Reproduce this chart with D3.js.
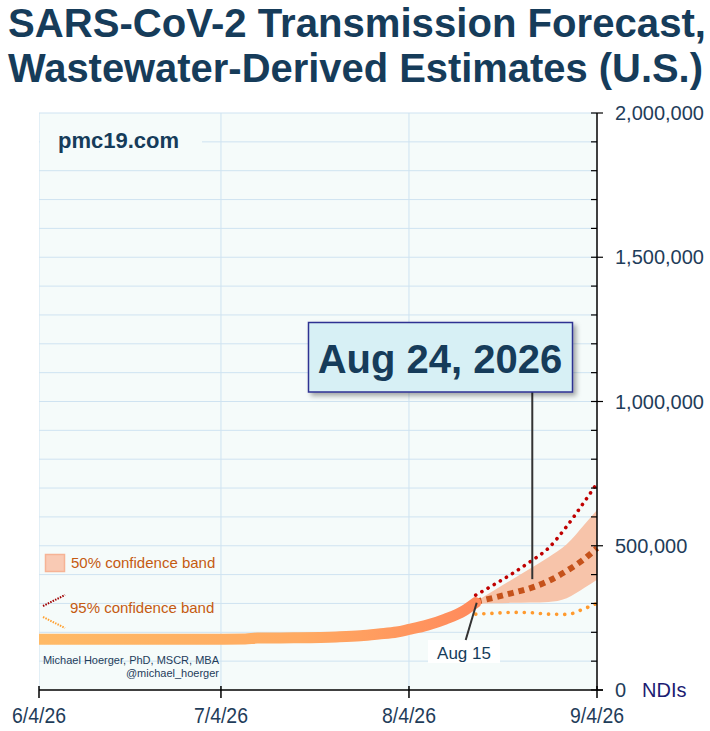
<!DOCTYPE html>
<html>
<head>
<meta charset="utf-8">
<script src="https://cdn.jsdelivr.net/npm/d3@7"></script>
<style>
  body { margin: 0; background: #fff; }
  text { font-family: "Liberation Sans", Arial, sans-serif; }
</style>
</head>
<body>
<div id="chart"></div>
<script>
// observed estimates (NDIs)
const histDates = ["2026-06-04", "2026-06-11", "2026-06-18", "2026-06-25", "2026-07-02", "2026-07-08",
  "2026-07-10", "2026-07-16", "2026-07-23", "2026-07-27", "2026-07-30", "2026-08-02", "2026-08-04",
  "2026-08-07", "2026-08-10", "2026-08-13", "2026-08-15"];
const histValues = [176000, 176000, 176000, 176000, 176000, 177000, 180000, 181000, 184000, 188000,
  194000, 201000, 210000, 225000, 246000, 274000, 303000];

// forecast
const fcDates = ["2026-08-15", "2026-08-18", "2026-08-21", "2026-08-24", "2026-08-27", "2026-08-30", "2026-09-02", "2026-09-04"];
const fcMedian = [306000, 320000, 336000, 353000, 378000, 413000, 456000, 492000];
const fcLo50 = [300000, 301000, 302000, 303000, 305000, 318000, 355000, 382000];
const fcHi50 = [306000, 345000, 383000, 421000, 460000, 505000, 575000, 624000];
const fcLo95 = [263000, 266000, 269000, 268000, 263000, 262000, 283000, 300000];
const fcHi95 = [329000, 365000, 403000, 445000, 492000, 567000, 655000, 716000];

const xTickDates = ["2026-06-04", "2026-07-04", "2026-08-04", "2026-09-04"];
const xTickLabels = ["6/4/26", "7/4/26", "8/4/26", "9/4/26"];
const yMajor = [0, 500000, 1000000, 1500000, 2000000];
const yMajorLabels = ["0", "500,000", "1,000,000", "1,500,000", "2,000,000"];

const highlightDate = "2026-08-24";
const highlightLabel = "Aug 24, 2026";
const startLabel = "Aug 15";

const W = 710, H = 731;
const plot = { left: 39, top: 113, right: 597, bottom: 690 };
const navy = "#163c5a";

const parse = d3.timeParse("%Y-%m-%d");
const hist = histDates.map((d, i) => ({ date: parse(d), v: histValues[i] }));
const fc = fcDates.map((d, i) => ({
  date: parse(d), med: fcMedian[i], lo50: fcLo50[i], hi50: fcHi50[i], lo95: fcLo95[i], hi95: fcHi95[i]
}));

const x = d3.scaleTime()
  .domain([parse(xTickDates[0]), parse(xTickDates[xTickDates.length - 1])])
  .range([plot.left, plot.right]);
const y = d3.scaleLinear().domain([0, 2000000]).range([plot.bottom, plot.top]);

const svg = d3.select("#chart").append("svg")
  .attr("width", W).attr("height", H);

const defs = svg.append("defs");
const grad = defs.append("linearGradient")
  .attr("id", "histGrad")
  .attr("gradientUnits", "userSpaceOnUse")
  .attr("x1", x(hist[0].date)).attr("x2", x(hist[hist.length - 1].date))
  .attr("y1", 0).attr("y2", 0);
grad.append("stop").attr("offset", "0%").attr("stop-color", "#ffba66");
grad.append("stop").attr("offset", "60%").attr("stop-color", "#ffaa62");
grad.append("stop").attr("offset", "100%").attr("stop-color", "#ff8a5c");

const shadow = defs.append("filter").attr("id", "shadow")
  .attr("x", "-10%").attr("y", "-20%").attr("width", "130%").attr("height", "150%");
shadow.append("feDropShadow")
  .attr("dx", 3).attr("dy", 3).attr("stdDeviation", 2.5)
  .attr("flood-color", "#000").attr("flood-opacity", 0.35);

// title
const title = svg.append("g")
  .attr("font-weight", "bold").attr("font-size", 41).attr("fill", navy);
title.append("text").attr("x", 8).attr("y", 37)
  .attr("textLength", 698).attr("lengthAdjust", "spacingAndGlyphs")
  .text("SARS-CoV-2 Transmission Forecast,");
title.append("text").attr("x", 8).attr("y", 82)
  .attr("textLength", 695).attr("lengthAdjust", "spacingAndGlyphs")
  .text("Wastewater-Derived Estimates (U.S.)");

// plot background
svg.append("rect")
  .attr("x", plot.left).attr("y", plot.top)
  .attr("width", plot.right - plot.left).attr("height", plot.bottom - plot.top)
  .attr("fill", "#f5fbfa");

// gridlines
const grid = svg.append("g").attr("stroke", "#cfe3f1").attr("stroke-width", 1);
grid.selectAll("line.h")
  .data(d3.range(100000, 2000001, 100000))
  .join("line")
  .attr("class", "h")
  .attr("x1", plot.left).attr("x2", plot.right)
  .attr("y1", d => y(d)).attr("y2", d => y(d));
grid.selectAll("line.v")
  .data(xTickDates.slice(0, 3))
  .join("line")
  .attr("class", "v")
  .attr("x1", d => x(parse(d))).attr("x2", d => x(parse(d)))
  .attr("y1", plot.top).attr("y2", plot.bottom);

// pmc19.com watermark (hides gridline behind it)
svg.append("rect")
  .attr("x", plot.left + 1).attr("y", 128)
  .attr("width", 162).attr("height", 26)
  .attr("fill", "#f5fbfa");
svg.append("text")
  .attr("x", 58).attr("y", 148)
  .attr("font-size", 22).attr("font-weight", "bold").attr("fill", navy)
  .text("pmc19.com");

// 50% band
svg.append("path")
  .datum(fc)
  .attr("fill", "#f7c4aa")
  .attr("d", d3.area()
    .x(d => x(d.date)).y0(d => y(d.lo50)).y1(d => y(d.hi50))
    .curve(d3.curveMonotoneX));

// 95% bounds
svg.append("path")
  .datum(fc)
  .attr("fill", "none").attr("stroke", "#c00000").attr("stroke-width", 3.6)
  .attr("stroke-linecap", "round").attr("stroke-dasharray", "0.1,7")
  .attr("d", d3.line().x(d => x(d.date)).y(d => y(d.hi95)).curve(d3.curveMonotoneX));
svg.append("path")
  .datum(fc)
  .attr("fill", "none").attr("stroke", "#ff9a2e").attr("stroke-width", 3.6)
  .attr("stroke-linecap", "round").attr("stroke-dasharray", "0.1,8")
  .attr("d", d3.line().x(d => x(d.date)).y(d => y(d.lo95)).curve(d3.curveMonotoneX));

// median forecast
svg.append("path")
  .datum(fc)
  .attr("fill", "none").attr("stroke", "#c5521b").attr("stroke-width", 6)
  .attr("stroke-dasharray", "6,5")
  .attr("d", d3.line().x(d => x(d.date)).y(d => y(d.med)).curve(d3.curveMonotoneX));

// observed
svg.append("path")
  .datum(hist)
  .attr("fill", "none").attr("stroke", "url(#histGrad)").attr("stroke-width", 11)
  .attr("stroke-linecap", "round").attr("stroke-linejoin", "round")
  .attr("d", d3.line().x(d => x(d.date)).y(d => y(d.v)).curve(d3.curveMonotoneX));
// clip the round cap at the left plot edge
svg.append("rect")
  .attr("x", 0).attr("y", plot.top).attr("width", plot.left).attr("height", plot.bottom - plot.top)
  .attr("fill", "#fff");

// legend
svg.append("rect")
  .attr("x", 45.5).attr("y", 554.5).attr("width", 19).attr("height", 17)
  .attr("fill", "#f9cab4").attr("stroke", "#f6b395").attr("stroke-width", 1.5);
svg.append("text").attr("x", 71).attr("y", 568)
  .attr("font-size", 15).attr("fill", "#c55a11").text("50% confidence band");
svg.append("line")
  .attr("x1", 43).attr("y1", 606).attr("x2", 65).attr("y2", 595)
  .attr("stroke", "#a00000").attr("stroke-width", 2).attr("stroke-dasharray", "1.5,1.2");
svg.append("line")
  .attr("x1", 43).attr("y1", 617).attr("x2", 65).attr("y2", 628)
  .attr("stroke", "#ffa030").attr("stroke-width", 2).attr("stroke-dasharray", "1.5,1.2");
svg.append("text").attr("x", 70).attr("y", 613)
  .attr("font-size", 15).attr("fill", "#c55a11").text("95% confidence band");

// credits
const credit = svg.append("g").attr("font-size", 11).attr("fill", "#1f3d5a").attr("text-anchor", "end");
credit.append("text").attr("x", 219).attr("y", 663.5).text("Michael Hoerger, PhD, MSCR, MBA");
credit.append("text").attr("x", 219).attr("y", 677).text("@michael_hoerger");

// Aug 15 callout
const startPt = fc[0];
svg.append("rect")
  .attr("x", 428).attr("y", 640).attr("width", 72).attr("height", 23)
  .attr("fill", "#ffffff");
svg.append("line")
  .attr("x1", x(startPt.date) + 1).attr("y1", y(startPt.med) + 1)
  .attr("x2", x(startPt.date) - 10).attr("y2", 640)
  .attr("stroke", "#333").attr("stroke-width", 2);
svg.append("text")
  .attr("x", 464).attr("y", 658.5).attr("text-anchor", "middle")
  .attr("font-size", 17).attr("fill", navy).text(startLabel);

// Aug 24 callout
const hl = fc.find(d => +d.date === +parse(highlightDate));
svg.append("line")
  .attr("x1", x(hl.date) + 2).attr("x2", x(hl.date) + 2)
  .attr("y1", 392).attr("y2", y(hl.med) - 9)
  .attr("stroke", "#333").attr("stroke-width", 2);
svg.append("rect")
  .attr("x", 308.5).attr("y", 322.5).attr("width", 264).attr("height", 69.5)
  .attr("fill", "#d7f0f5").attr("stroke", "#2e3192").attr("stroke-width", 1.5)
  .attr("filter", "url(#shadow)");
svg.append("text")
  .attr("x", 440).attr("y", 372.5).attr("text-anchor", "middle")
  .attr("font-size", 40).attr("font-weight", "bold").attr("fill", navy)
  .text(highlightLabel);

// x axis
const xAxis = svg.append("g");
xAxis.append("line")
  .attr("x1", plot.left).attr("x2", plot.right + 6)
  .attr("y1", plot.bottom).attr("y2", plot.bottom)
  .attr("stroke", "#000").attr("stroke-width", 1.5);
xAxis.selectAll("line.tick")
  .data(xTickDates)
  .join("line")
  .attr("class", "tick")
  .attr("x1", d => x(parse(d))).attr("x2", d => x(parse(d)))
  .attr("y1", plot.bottom - 4).attr("y2", plot.bottom + 8)
  .attr("stroke", "#000").attr("stroke-width", 1.5);
xAxis.selectAll("text")
  .data(xTickDates)
  .join("text")
  .attr("x", d => x(parse(d))).attr("y", 723)
  .attr("text-anchor", "middle").attr("font-size", 22).attr("fill", "#1f3d5a")
  .attr("textLength", 54).attr("lengthAdjust", "spacingAndGlyphs")
  .text((d, i) => xTickLabels[i]);

// y axis on the right
const yAxis = svg.append("g");
yAxis.append("line")
  .attr("x1", plot.right).attr("x2", plot.right)
  .attr("y1", plot.top).attr("y2", plot.bottom)
  .attr("stroke", "#000").attr("stroke-width", 1.5);
yAxis.selectAll("line.minor")
  .data(d3.range(100000, 2000000, 100000).filter(d => d % 500000 !== 0))
  .join("line")
  .attr("class", "minor")
  .attr("x1", plot.right - 6).attr("x2", plot.right)
  .attr("y1", d => y(d)).attr("y2", d => y(d))
  .attr("stroke", "#000").attr("stroke-width", 1.2);
yAxis.selectAll("line.major")
  .data(yMajor)
  .join("line")
  .attr("class", "major")
  .attr("x1", plot.right - 6).attr("x2", plot.right + 6)
  .attr("y1", d => y(d)).attr("y2", d => y(d))
  .attr("stroke", "#000").attr("stroke-width", 1.2);
yAxis.selectAll("text")
  .data(yMajor)
  .join("text")
  .attr("x", 615).attr("y", d => y(d)).attr("dy", "0.35em")
  .attr("font-size", 20).attr("fill", "#1f3d5a")
  .text((d, i) => yMajorLabels[i]);
svg.append("text")
  .attr("x", 642).attr("y", y(0)).attr("dy", "0.35em")
  .attr("font-size", 20).attr("fill", "#1c1c72")
  .text("NDIs");
</script>
</body>
</html>
